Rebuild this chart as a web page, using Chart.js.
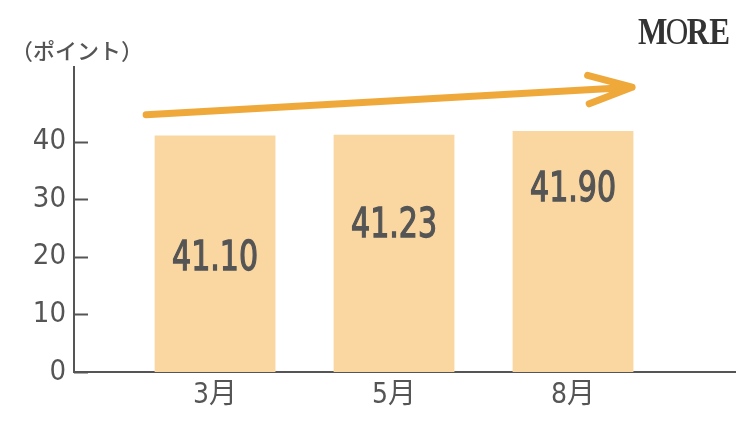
<!DOCTYPE html>
<html>
<head>
<meta charset="utf-8">
<script src="https://cdn.jsdelivr.net/npm/chart.js@4.4.1/dist/chart.umd.min.js"></script>
<style>
  html, body { margin: 0; padding: 0; background: #fff; }
  #wrap { width: 750px; height: 427px; position: relative; }
</style>
</head>
<body>
<div id="wrap"><canvas id="chart"></canvas></div>
<script>
// data
const months = ['3月', '5月', '8月'];
const scores = [41.10, 41.23, 41.90];
const scoreLabels = ['41.10', '41.23', '41.90'];
const yTicks = [0, 10, 20, 30, 40];

const GRAY = '#555555';
const BAR = '#FAD7A1';
const ORANGE = '#EFA93B';
const NUM_FONT = '"Liberation Sans Narrow", "DejaVu Sans Condensed", "Noto Sans CJK JP", sans-serif';

// extra drawing: inner tick marks, value labels, arrow, unit caption, logo
const decor = {
    id: 'decor',
    afterDraw(chart, args, opts) {
        const ctx = chart.ctx;
        const xs = chart.scales.x;
        const ys = chart.scales.y;
        const area = chart.chartArea;
        ctx.save();

        // tick marks pointing into the plot
        ctx.strokeStyle = GRAY;
        ctx.lineWidth = 2;
        yTicks.forEach(v => {
            const py = Math.round(ys.getPixelForValue(v)) + 0.5;
            ctx.beginPath();
            ctx.moveTo(area.left, py);
            ctx.lineTo(area.left + 14, py);
            ctx.stroke();
        });

        // values inside the bars (condensed, medium weight)
        ctx.fillStyle = GRAY;
        ctx.strokeStyle = GRAY;
        ctx.lineWidth = 1.3;
        ctx.font = '41px ' + NUM_FONT;
        ctx.textAlign = 'center';
        ctx.textBaseline = 'middle';
        scoreLabels.forEach((t, i) => {
            const px = xs.getPixelForValue(i + 1);
            const py = ys.getPixelForValue(opts.labelAt[i]) + 2;
            const k = Math.min(1, 86 / ctx.measureText(t).width);
            ctx.save();
            ctx.translate(px, py);
            ctx.scale(k, 1);
            ctx.fillText(t, 0, 0);
            ctx.strokeText(t, 0, 0);
            ctx.restore();
        });

        // trend arrow
        const x0 = xs.getPixelForValue(opts.arrowFrom[0]);
        const y0 = ys.getPixelForValue(opts.arrowFrom[1]);
        const x1 = xs.getPixelForValue(opts.arrowTo[0]);
        const y1 = ys.getPixelForValue(opts.arrowTo[1]);
        const ang = Math.atan2(y1 - y0, x1 - x0);
        const head = 46, spread = 18 * Math.PI / 180;
        ctx.strokeStyle = ORANGE;
        ctx.lineWidth = 7;
        ctx.lineCap = 'round';
        ctx.lineJoin = 'round';
        ctx.beginPath();
        ctx.moveTo(x0, y0);
        ctx.lineTo(x1, y1);
        ctx.moveTo(x1 - head * Math.cos(ang - spread), y1 - head * Math.sin(ang - spread));
        ctx.lineTo(x1, y1);
        ctx.lineTo(x1 - head * Math.cos(ang + spread), y1 - head * Math.sin(ang + spread));
        ctx.stroke();

        // unit caption
        ctx.fillStyle = GRAY;
        ctx.font = '500 22px "Noto Sans CJK JP", sans-serif';
        ctx.textAlign = 'left';
        ctx.textBaseline = 'middle';
        ctx.fillText('（ポイント）', 11, 51);

        // logo
        ctx.fillStyle = '#333333';
        ctx.textBaseline = 'alphabetic';
        ctx.translate(638, 44);
        ctx.scale(0.82, 1);
        ctx.font = 'bold 38px "Liberation Serif", serif';
        ctx.fillText('M', 0, 0);
        let w = ctx.measureText('M').width;
        ctx.font = '38px "Liberation Serif", serif';
        ctx.fillText('O', w - 2, 0);
        w += ctx.measureText('O').width - 4;
        ctx.font = 'bold 38px "Liberation Serif", serif';
        ctx.fillText('RE', w, 0);

        ctx.restore();
    }
};

new Chart(document.getElementById('chart'), {
    type: 'bar',
    data: {
        datasets: [{
            data: scores.map((v, i) => ({ x: i + 1, y: v })),
            backgroundColor: BAR,
            borderWidth: 0,
            barPercentage: 0.675,
            categoryPercentage: 1
        }]
    },
    options: {
        responsive: true,
        maintainAspectRatio: false,
        animation: false,
        layout: { padding: { top: 67, right: 15, left: 0, bottom: 0 } },
        plugins: {
            legend: { display: false },
            tooltip: { enabled: false },
            decor: {
                labelAt: [19.9, 25.7, 31.9],
                arrowFrom: [0.615, 44.7],
                arrowTo: [3.33, 49.5]
            }
        },
        scales: {
            x: {
                type: 'linear',
                min: 0.212,
                max: 3.905,
                offset: false,
                grid: { display: false, drawTicks: false, offset: false },
                border: { display: true, color: GRAY, width: 2 },
                afterBuildTicks: axis => { axis.ticks = months.map((m, i) => ({ value: i + 1 })); },
                afterFit: scale => { scale.height = 55; },
                ticks: {
                    padding: 7,
                    color: GRAY,
                    font: { size: 28, family: NUM_FONT },
                    callback: v => months[v - 1]
                }
            },
            y: {
                min: 0,
                max: 53,
                grid: { display: false, drawTicks: false },
                border: { display: true, color: GRAY, width: 2 },
                afterBuildTicks: axis => { axis.ticks = yTicks.map(v => ({ value: v })); },
                afterFit: scale => { scale.width = 74; },
                ticks: {
                    padding: 8,
                    color: GRAY,
                    font: { size: 29, family: NUM_FONT }
                }
            }
        }
    },
    plugins: [decor]
});
</script>
</body>
</html>
